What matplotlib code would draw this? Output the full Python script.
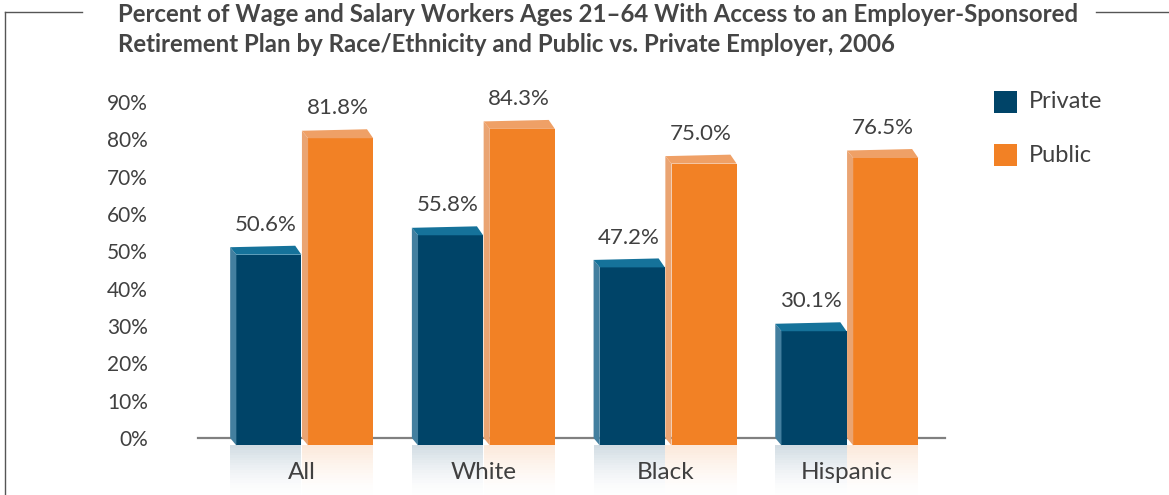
import matplotlib
matplotlib.use('Agg')
from matplotlib import pyplot as plt
from matplotlib.patches import Polygon
from matplotlib.lines import Line2D

# data
groups = ['All', 'White', 'Black', 'Hispanic']
private = [50.6, 55.8, 47.2, 30.1]
public = [81.8, 84.3, 75.0, 76.5]
yticks = [0, 10, 20, 30, 40, 50, 60, 70, 80, 90]

title = ('Percent of Wage and Salary Workers Ages 21\u201364 With Access to an Employer-Sponsored\n'
         'Retirement Plan by Race/Ethnicity and Public vs. Private Employer, 2006')

W, H = 1169, 495
plt.rcParams['font.family'] = ['Lato', 'DejaVu Sans']
fig = plt.figure(figsize=(W / 100, H / 100), dpi=100)

# axes placed in pixel terms: x line 198..945, 0% at y=438, 90% at y=102
ax = fig.add_axes([198 / W, (H - 438) / H, (945 - 198) / W, (438 - 102) / H])
ax.set_ylim(0, 90)
ax.set_xlim(-0.572, 3.539)

txt = '#404040'
bw = 0.358      # front face width
dx = 0.034      # depth offset to the left
dy = 2.0        # depth offset upwards
sink = 2.0      # front face sinks below baseline

styles = {
    'private': dict(front='#004468', side='#437f9f', top='#15729a', refl='#8fa9bb'),
    'public': dict(front='#f28125', side='#eaa472', top='#efa066', refl='#f8c9a3'),
}

def bar3d(x0, v, st):
    front_top = v - 1.5
    ax.bar(x0, front_top + sink, width=bw, bottom=-sink, align='edge',
           color=st['front'], clip_on=False, zorder=3, linewidth=0)
    side = Polygon([(x0 - dx, 0), (x0 - dx, front_top + dy), (x0, front_top), (x0, -sink)],
                   closed=True, facecolor=st['side'], edgecolor='none', clip_on=False, zorder=3)
    ax.add_patch(side)
    top = Polygon([(x0 - dx, front_top + dy), (x0 + bw - dx, front_top + dy + 0.4),
                   (x0 + bw, front_top), (x0, front_top)],
                  closed=True, facecolor=st['top'], edgecolor='none', clip_on=False, zorder=3)
    ax.add_patch(top)
    # faded reflection under the bar
    n = 20
    step = 13.3 / n
    for k in range(n):
        a = 0.4 * (1 - k / n) ** 1.6
        ax.bar(x0 - dx, step, width=bw + dx, bottom=-sink - step * (k + 1), align='edge',
               color=st['refl'], alpha=a, clip_on=False, zorder=1, linewidth=0)
    return front_top + dy

for i, g in enumerate(groups):
    xp = i - bw - 0.003
    xq = i + dx + 0.0
    tp = bar3d(xp, private[i], styles['private'])
    tq = bar3d(xq, public[i], styles['public'])
    ax.text(xp + bw / 2 - dx / 2, tp + 3.3, f'{private[i]:.1f}%', ha='center', va='bottom',
            fontsize=16, color=txt, zorder=5)
    ax.text(xq + bw / 2 - dx / 2, tq + 3.3, f'{public[i]:.1f}%', ha='center', va='bottom',
            fontsize=16, color=txt, zorder=5)

ax.set_yticks(yticks)
ax.set_yticklabels([f'{t}%' for t in yticks], fontsize=15, color=txt)
ax.set_xticks(range(len(groups)))
ax.set_xticklabels(groups, fontsize=17.5, color=txt)
ax.tick_params(axis='y', length=0, pad=36)
ax.tick_params(axis='x', length=0, pad=17)
for s in ['top', 'right', 'left']:
    ax.spines[s].set_visible(False)
ax.spines['bottom'].set_color('#808080')
ax.spines['bottom'].set_linewidth(1.6)
ax.spines['bottom'].set_zorder(2)
ax.patch.set_alpha(0)

# title
fig.text(118 / W, 1 - 29.5 / H, title, fontsize=17.3, fontweight='bold', color='#454545',
         ha='left', va='center', linespacing=1.32)

# legend squares and labels
for yc, lab, col in [(102, 'Private', '#004468'), (155, 'Public', '#f28125')]:
    fig.patches.append(Polygon([(994 / W, 1 - (yc - 11) / H), (1017 / W, 1 - (yc - 11) / H),
                                (1017 / W, 1 - (yc + 11) / H), (994 / W, 1 - (yc + 11) / H)],
                               closed=True, transform=fig.transFigure, facecolor=col,
                               edgecolor='none'))
    fig.text(1029 / W, 1 - yc / H, lab, fontsize=17, color=txt, ha='left', va='center')

# frame lines
lc = '#555555'
fig.add_artist(Line2D([5 / W, 5 / W], [1 - 12 / H, 0], color=lc, lw=1))
fig.add_artist(Line2D([5 / W, 82 / W], [1 - 12 / H, 1 - 12 / H], color=lc, lw=1))
fig.add_artist(Line2D([1096 / W, 1], [1 - 12 / H, 1 - 12 / H], color=lc, lw=1))

fig.savefig('out.png', dpi=100)
